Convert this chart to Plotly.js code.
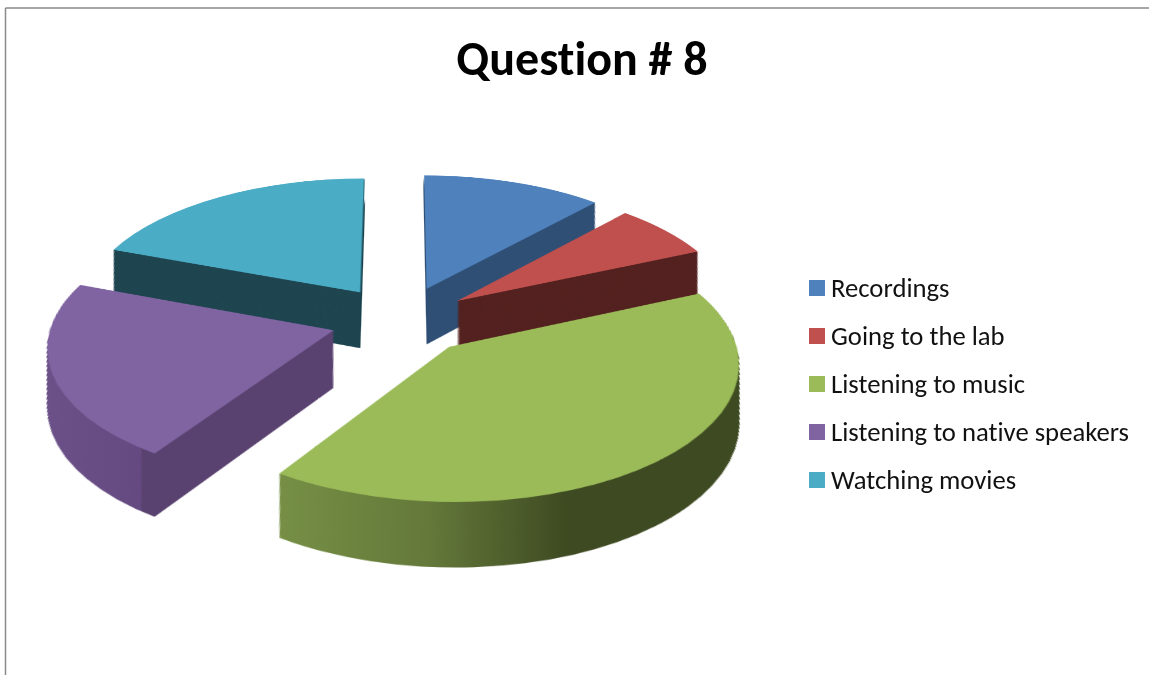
<!DOCTYPE html>
<html>
<head>
<meta charset="utf-8">
<script src="https://cdn.plot.ly/plotly-3.0.1.min.js"></script>
<style>
html,body{margin:0;padding:0;background:#fff;overflow:hidden}
#chart{width:1149px;height:675px}
#chart text{font-variant-ligatures:none !important;font-feature-settings:"liga" 0,"clig" 0 !important}
</style>
</head>
<body>
<div id="chart"></div>
<script>
const categories = ["Recordings","Going to the lab","Listening to music","Listening to native speakers","Watching movies"];
const shares = [11.7, 6.7, 40.9, 21.4, 19.3];
const pullAmount = [0.26, 0.25, 0.26, 0.25, 0.26];
const faceColors = ["#4F81BD","#C0504D","#9BBB59","#8064A2","#4BACC6"];
const wallColors = ["#2F4F75","#542220","#3E4A21","#5A4270","#1F4650"];

const W = 1149, H = 675;
const depthPx = 95, stepPx = 1;
const tiltDeg = 62, persp = 2288, zoom = 1.222;
const shrink = zoom * Math.sin(tiltDeg * Math.PI / 180) / persp;
const layers = Math.round(depthPx / stepPx);
const faceH = H - depthPx;
const traces = [];
for (let i = layers; i >= 0; i--) {
  const dy = i * stepPx;
  const half = faceH / 2 * (1 - shrink * dy);
  const c = faceH / 2 + dy;
  const isTop = i === 0;
  traces.push({
    type: "pie", labels: categories, values: shares, pull: pullAmount,
    sort: false, direction: "clockwise", rotation: 0,
    textinfo: "none", hoverinfo: "skip", showlegend: isTop,
    marker: {colors: isTop ? faceColors : wallColors, line: {width: 0}},
    domain: {x: [0, 1], y: [1 - (c + half) / H, 1 - (c - half) / H]}
  });
}

const layout = {
  width: W, height: H, margin: {l: 0, r: 0, t: 0, b: 0},
  paper_bgcolor: "rgba(0,0,0,0)", plot_bgcolor: "rgba(0,0,0,0)",
  font: {family: "Carlito, Lato, sans-serif", color: "#000"},
  title: {text: "<b>Question # 8</b>", font: {family: "Carlito, Lato, sans-serif", size: 48, color: "#000"},
          x: 582 / W, xanchor: "center", y: 1 - 58 / H, yanchor: "middle"},
  legend: {x: 791 / W, xanchor: "left", y: 1 - 272 / H, yanchor: "top",
           bgcolor: "rgba(0,0,0,0)", font: {family: "Carlito, Lato, sans-serif", size: 26.7, color: "#111"}},
  shapes: [
    {type: "line", xref: "paper", yref: "paper", x0: 5.5 / W, x1: 1, y0: 1 - 8 / H, y1: 1 - 8 / H, line: {color: "#8a8a8a", width: 1.5}},
    {type: "line", xref: "paper", yref: "paper", x0: 5.5 / W, x1: 5.5 / W, y0: 0, y1: 1 - 8 / H, line: {color: "#8a8a8a", width: 1.5}}
  ]
};

Plotly.newPlot("chart", traces, layout, {staticPlot: true, displayModeBar: false}).then(() => {
  const root = document.getElementById("chart");
  const svg = root.querySelector("svg.main-svg");
  const NS = "http://www.w3.org/2000/svg";
  const defs = svg.querySelector("defs") || svg.insertBefore(document.createElementNS(NS, "defs"), svg.firstChild);
  function grad(id, stops) {
    const g = document.createElementNS(NS, "linearGradient");
    g.setAttribute("id", id);
    stops.forEach(([o, c]) => {
      const s = document.createElementNS(NS, "stop");
      s.setAttribute("offset", o); s.setAttribute("stop-color", c);
      g.appendChild(s);
    });
    defs.appendChild(g);
  }
  grad("wallGreen", [[0, "#768F45"], [0.3, "#64793A"], [0.58, "#3E4A21"], [1, "#3E4A21"]]);
  grad("wallPurple", [[0, "#6B5188"], [0.4, "#644A80"], [0.405, "#5A4270"], [1, "#5A4270"]]);

  const groups = root.querySelectorAll(".pielayer > .trace");
  groups.forEach((g, gi) => {
    if (gi === groups.length - 1) return;
    const paths = g.querySelectorAll(".slice path.surface");
    if (paths[2]) paths[2].style.fill = "url(#wallGreen)";
    if (paths[3]) paths[3].style.fill = "url(#wallPurple)";
  });

  // Tilt the flat stack of pies into perspective
  const cx = W / 2, cy = faceH / 2;
  const targetX = 401, targetY = 320;
  svg.style.transformOrigin = cx + "px " + cy + "px";
  svg.style.transform = "translate(" + (targetX - cx) + "px," + (targetY - cy) + "px) perspective(" + persp + "px) rotateX(" + tiltDeg + "deg) scale(" + zoom + ")";

  // Legend rows: Office-style spacing and swatches
  const legend = root.querySelector(".legend");
  const sb = legend.querySelector(".scrollbox");
  if (sb) sb.removeAttribute("clip-path");
  legend.removeAttribute("clip-path");
  legend.querySelectorAll(".traces").forEach((t, i) => {
    t.setAttribute("transform", "translate(0," + (15 + 48 * i) + ")");
    const p = t.querySelector(".legendpie");
    if (p) p.setAttribute("transform", "translate(26,1) scale(1.33)");
  });
});
</script>
</body>
</html>
